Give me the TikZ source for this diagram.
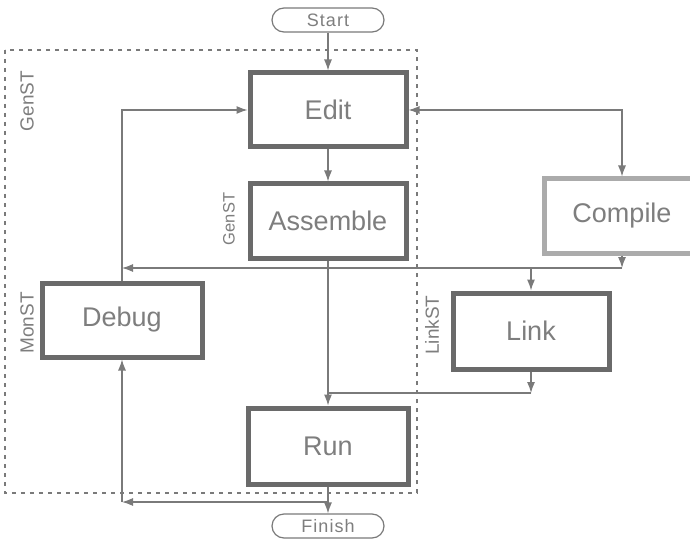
\documentclass[tikz,border=0pt]{standalone}
\usepackage{fontspec}
\setmainfont{Liberation Sans}
\usetikzlibrary{arrows.meta}
\definecolor{boxc}{HTML}{6A6A6A}
\definecolor{boxl}{HTML}{ABABAB}
\definecolor{txt}{HTML}{7E7E7E}
\definecolor{ln}{HTML}{7A7A7A}
\begin{document}
\begin{tikzpicture}[x=1pt,y=-1pt,
  box/.style={draw=boxc, line width=5pt, minimum width=156pt, minimum height=74pt,
    inner sep=0pt, text=txt, font=\fontsize{27}{30}\selectfont},
  lbox/.style={box, draw=boxl},
  term/.style={draw=ln, line width=1.2pt, rounded corners=12pt, minimum width=112pt,
    minimum height=24pt, inner sep=0pt, text=txt, font=\addfontfeature{LetterSpace=6}\fontsize{18}{20}\selectfont},
  lab/.style={text=txt, inner sep=0pt, rotate=90, font=\fontsize{19}{21}\selectfont},
  slab/.style={lab, font=\fontsize{16.5}{18}\selectfont},
  frame/.style={draw=ln, line width=1.4pt, dash pattern=on 4pt off 5pt},
  conn/.style={draw=ln, line width=1.2pt, -{Latex[length=11pt,width=8pt]}},
  plain/.style={draw=ln, line width=1.2pt},
  both/.style={draw=ln, line width=1.2pt, {Latex[length=11pt,width=8pt]}-{Latex[length=11pt,width=8pt]}}
]
\useasboundingbox (0,0) rectangle (690,548);
\fill[white] (0,0) rectangle (690,548);

% dashed frame
\draw[frame] (5,50) rectangle (417,493);

% nodes
\node[term] (start) at (328,20) {Start};
\node[box] (edit) at (328,110) {Edit};
\node[box] (assemble) at (328,221) {Assemble};
\node[lbox] (compile) at (622,216) {Compile};
\node[box, minimum width=160pt] (debug) at (122,320) {Debug};
\node[box, minimum height=76pt] (link) at (531,331) {Link};
\node[box, minimum width=160pt, minimum height=76pt] (run) at (328,446) {Run};
\node[term] (finish) at (328,526) {Finish};

% rotated labels
\node[lab] (g1) at (27,101) {GenST};
\node[lab] (m1) at (27,323) {MonST};
\node[slab] (g2) at (229,219) {GenST};
\node[lab] (l1) at (432,325) {LinkST};

% junction points
\coordinate (c1) at (622,268);
\coordinate (c2) at (debug.north |- c1);
\coordinate (c3) at (531,393);
\coordinate (c5) at (328,502);
\coordinate (c4) at (debug.south |- c5);

% connectors
\draw[conn] (start) -- (edit);
\draw[conn] (edit) -- (assemble);
\draw[both] (edit.east) -| (compile.north);
\draw[conn] (compile.south) -- (c1);
\draw[conn] (c1) -- (c2);
\draw[conn] (link.north |- c1) -- (link.north);
\draw[conn] (debug.north) |- (edit.west);
\draw[conn] (assemble) -- (run);
\draw[conn] (link.south) -- (c3);
\draw[plain] (c3) -- (c3 -| run.north);
\draw[conn] (run) -- (finish);
\draw[conn] (c5) -- (c4);
\draw[conn] (c4) -- (debug.south);
\end{tikzpicture}
\end{document}
